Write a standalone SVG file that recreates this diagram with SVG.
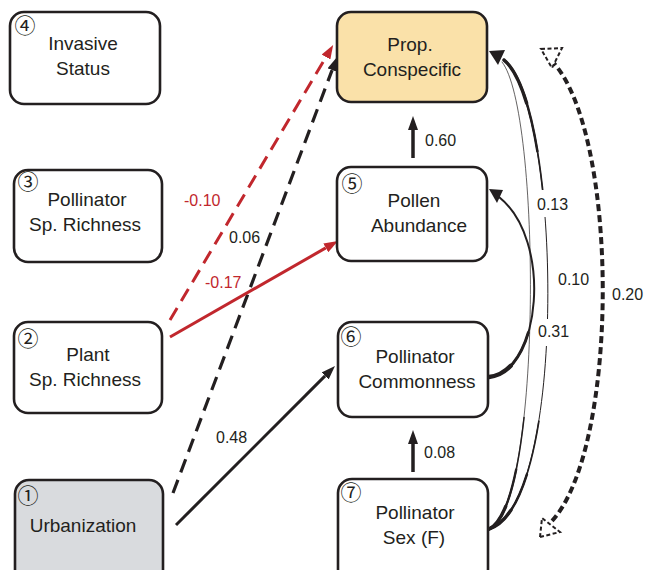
<svg xmlns="http://www.w3.org/2000/svg" width="648" height="570" viewBox="0 0 648 570">
<defs>
<style>
.box{stroke:#231f20;stroke-width:2.6;fill:#fff}
.t{font-family:"Liberation Sans",Arial,sans-serif;font-size:19px;fill:#231f20;text-anchor:middle}
.num{font-family:"Noto Sans CJK JP","Noto Sans CJK SC",sans-serif;font-size:21px;fill:#231f20;text-anchor:middle}
.lab{font-family:"Liberation Sans",Arial,sans-serif;font-size:16px;fill:#231f20}
.red{fill:#c1272d}
.k{stroke:#231f20;fill:none}
.r{stroke:#c1272d;fill:none}
</style>
<marker id="ak" viewBox="0 0 14 10" refX="0" refY="5" markerWidth="14" markerHeight="10" orient="auto" markerUnits="userSpaceOnUse"><path d="M0,0 L14,5 L0,10 z" fill="#231f20"/></marker>
<marker id="ar" viewBox="0 0 14 10" refX="0" refY="5" markerWidth="14" markerHeight="10" orient="auto" markerUnits="userSpaceOnUse"><path d="M0,0 L14,5 L0,10 z" fill="#c1272d"/></marker>
</defs>
<rect width="648" height="570" fill="#fff"/>

<g id="connectors">
<path class="r" d="M170,320 L326,57" stroke-width="3" stroke-dasharray="14 8" marker-end="url(#ar)"/>
<path class="k" d="M173,493 L332.1,70.1" stroke-width="3.2" stroke-dasharray="14 8" marker-end="url(#ak)"/>
<path class="r" d="M170,337 L325.8,247.9" stroke-width="3" marker-end="url(#ar)"/>
<path class="k" d="M176,525 L325.1,375.9" stroke-width="3" marker-end="url(#ak)"/>
<path class="k" d="M413,158 L413,130" stroke-width="3.5" marker-end="url(#ak)"/>
<path class="k" d="M413,472 L413,444" stroke-width="3.5" marker-end="url(#ak)"/>
<g class="k" stroke-linecap="round">
<path d="M489,529 C568,505 562,108 504,60" stroke-width="1" pathLength="100"/>
<path d="M489,529 C568,505 562,108 504,60" stroke-width="1.7" pathLength="100" stroke-dasharray="25 45 30 0"/>
<path d="M489,529 C568,505 562,108 504,60" stroke-width="2.5" pathLength="100" stroke-dasharray="14 66 20 0"/>
<path d="M489,529 C568,505 562,108 504,60" stroke-width="3.4" pathLength="100" stroke-dasharray="6 84 10 0"/>
<path d="M489,529 C543,505 541,110 502,62" stroke-width="0.7" pathLength="100"/>
<path d="M489,529 C543,505 541,110 502,62" stroke-width="1.5" pathLength="100" stroke-dasharray="25 80"/>
<path d="M489,529 C543,505 541,110 502,62" stroke-width="2.4" pathLength="100" stroke-dasharray="14 90"/>
<path d="M489,529 C543,505 541,110 502,62" stroke-width="3.4" pathLength="100" stroke-dasharray="6 98"/>
<path d="M489,377 C541,372 553,240 499,197" stroke-width="2" pathLength="100"/>
<path d="M489,377 C541,372 553,240 499,197" stroke-width="3" pathLength="100" stroke-dasharray="30 80"/>
<path d="M489,377 C541,372 553,240 499,197" stroke-width="4.4" pathLength="100" stroke-dasharray="12 90"/>
</g>
<polygon points="489,51 505,50 498,65" fill="#231f20"/>
<polygon points="489,189 503,190 497,203" fill="#231f20"/>
<path class="k" d="M551,60 C620,130 620,450 551,522" stroke-width="4" stroke-dasharray="7 4"/>
<polygon points="541,49 562,48 552,68" fill="#fff" stroke="#231f20" stroke-width="2" stroke-dasharray="4 2.5"/>
<polygon points="540,537 542,518 560,532" fill="#fff" stroke="#231f20" stroke-width="2" stroke-dasharray="4 2.5"/>
<rect x="535" y="190" width="37" height="27" fill="#fff"/>
<rect x="536" y="319" width="37" height="27" fill="#fff"/>
<text class="lab red" x="184" y="206">-0.10</text>
<text class="lab" x="229" y="243">0.06</text>
<text class="lab red" x="205" y="288">-0.17</text>
<text class="lab" x="216" y="443">0.48</text>
<text class="lab" x="425" y="146">0.60</text>
<text class="lab" x="424" y="458">0.08</text>
<text class="lab" x="537" y="210">0.13</text>
<text class="lab" x="558" y="285">0.10</text>
<text class="lab" x="538" y="337">0.31</text>
<text class="lab" x="612" y="300">0.20</text>
</g>

<g id="n4">
<rect class="box" x="10" y="12" width="150" height="92" rx="14"/>
<text class="num" x="25" y="33">④</text>
<text class="t" x="83" y="50">Invasive</text>
<text class="t" x="83" y="75">Status</text>
</g>
<g id="n3">
<rect class="box" x="14" y="170" width="148" height="92" rx="14"/>
<text class="num" x="28" y="189">③</text>
<text class="t" x="87" y="206">Pollinator</text>
<text class="t" x="85" y="231">Sp. Richness</text>
</g>
<g id="n2">
<rect class="box" x="14" y="322" width="148" height="91" rx="14"/>
<text class="num" x="28" y="346">②</text>
<text class="t" x="88" y="361">Plant</text>
<text class="t" x="85" y="386">Sp. Richness</text>
</g>
<g id="n1">
<rect class="box" x="15" y="480" width="148" height="104" rx="14" style="fill:#d9dbde"/>
<text class="num" x="28" y="503">①</text>
<text class="t" x="83" y="532">Urbanization</text>
</g>
<g id="prop">
<rect class="box" x="337" y="12" width="150" height="90" rx="14" style="fill:#fae1a9"/>
<text class="t" x="410" y="51">Prop.</text>
<text class="t" x="412" y="76">Conspecific</text>
</g>
<g id="n5">
<rect class="box" x="337" y="167" width="150" height="94" rx="14"/>
<text class="num" x="352" y="191">⑤</text>
<text class="t" x="414" y="207">Pollen</text>
<text class="t" x="419" y="232">Abundance</text>
</g>
<g id="n6">
<rect class="box" x="338" y="322" width="150" height="95" rx="14"/>
<text class="num" x="351" y="344">⑥</text>
<text class="t" x="415" y="363">Pollinator</text>
<text class="t" x="417" y="388">Commonness</text>
</g>
<g id="n7">
<rect class="box" x="338" y="479" width="150" height="104" rx="14"/>
<text class="num" x="351" y="500">⑦</text>
<text class="t" x="415" y="519">Pollinator</text>
<text class="t" x="414" y="544">Sex (F)</text>
</g>
</svg>
